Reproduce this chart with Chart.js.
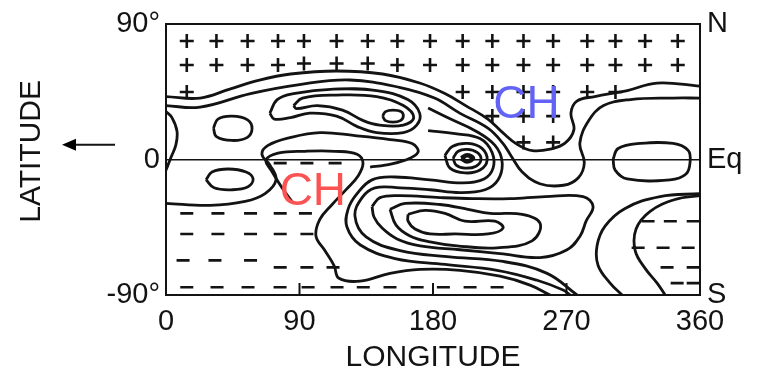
<!DOCTYPE html>
<html>
<head>
<meta charset="utf-8">
<script src="https://cdn.jsdelivr.net/npm/chart.js@4.4.0/dist/chart.umd.min.js"></script>
<style>
  html, body { margin: 0; padding: 0; background: #fff; }
  #wrap { width: 760px; height: 382px; }
</style>
</head>
<body>
<div id="wrap"><canvas id="mapChart" width="760" height="382"></canvas></div>
<script>
// contour traces as [longitude, latitude]
const northOuter = [[0,42],[23,41],[43,47],[63,53],[84,57],[115,59],[146,57],[171,51],[188,44],[202,36],[217,27],[227,18],[237,10],[247,6],[259,7],[269,11],[275,20],[273,31],[277,39],[289,42],[311,46],[331,51],[360,49]]
const northInner = [[0,36],[23,35],[57,44],[90,50],[124,53],[158,48],[181,41],[198,31],[217,21],[227,11],[233,2],[240,-8],[252,-16],[268,-17],[278,-12],[282,-2],[279,11],[285,26],[295,36],[313,40],[342,41],[360,41]]
const loopBig = [[70,31],[75,40],[86,44],[113,47],[142,46],[163,40],[171,31],[169,23],[160,18],[142,18],[129,22],[115,29],[97,31],[84,28],[73,27],[70,31]]
const loopMid = [[86,36],[92,41],[115,43],[142,42],[160,36],[167,28],[160,23],[144,23],[133,26],[119,33],[102,36],[88,34],[86,36]]
const loopSmall = [[146,29],[148,32],[153,33],[158.5,32],[160,29],[158,26],[153,25],[148,26],[146,29]]
const ovalNorth = [[32,21],[35,27],[44.5,29],[55,26.5],[58,20.6],[54.6,14.7],[44.5,12.8],[34,15.4],[32,21]]
const ovalSouth = [[27,-13.4],[31,-8.2],[42,-6.2],[54,-8.2],[58.7,-12.8],[55.3,-18],[44.5,-20],[32.4,-18.7],[27,-13.4]]
const edgeBulge = [[0,32],[4,28],[7.4,19],[6.7,10],[3.4,1.6],[1.3,-3.6],[0,-7]]
const bandLower = [[0,-29.1],[29.7,-30.4],[53.3,-27.8],[66.8,-22.6],[74.2,-13.4],[70.1,-3.6],[64.7,3.6],[68.8,9.5],[83.6,14.7],[103.8,18],[127.4,16],[151,13.4],[165.9,10.8],[169.9,4.9],[161.2,-0.3],[147.7,-3.6],[137.6,-4.9]]
const southEdge = [[85,-27.8],[78.2,-18.7],[70.8,-6.9],[67.4,-0.3],[75.5,4.3],[93.7,5.6],[114,5.6],[128.8,3.6],[132.8,-2.3],[129.5,-10.8],[121.4,-19.9],[112,-29.8],[103.8,-39.6],[101.1,-50.7],[107.2,-60.5],[113.3,-70.4],[116.6,-78.9],[130.8,-80.8],[151,-75.6],[171.3,-73],[198.2,-73.6],[225.2,-77.5],[245.4,-83.4],[258.9,-90]]
const eyeCore = [[199,1],[203,3],[207,1],[203,-1.2],[199,1]]
const eyeInner = [[193.5,1],[197,5.6],[203,6.9],[209.7,4.9],[212.4,0.3],[209,-4.3],[201.6,-5.6],[195.6,-3.6],[193.5,1]]
const eyeOuter = [[188,2.9],[193,8.8],[203.6,10.8],[213,7.5],[216.5,-0.3],[211.7,-6.9],[201.6,-8.8],[191.5,-5.6],[188,2.9]]
const hookOne = [[176.7,19.3],[194.9,17.3],[211.7,14.1],[219.8,4.9],[220.5,-5.6],[214.4,-12.8],[200.3,-15.4],[178,-13.4],[154.4,-11.5],[138.9,-13.4],[128.8,-22.6],[122.7,-33],[122,-44.8],[130.8,-56.6],[154.4,-65.8],[188.1,-69.7],[223.2,-73.6],[250.2,-80.2],[267.7,-86.7],[272.4,-90]]
const hookTwo = [[176.7,34.4],[191.5,27.2],[208.4,19.3],[221.8,9.5],[226.6,-1.6],[223.9,-13.4],[215.1,-20],[198.2,-21.9],[178,-20],[157.8,-18.7],[140.9,-18.7],[132.2,-25.2],[127.4,-37.6],[134.9,-51.4],[157.8,-60.5],[189.5,-64.5],[227.2,-67.7],[256.9,-75.6],[277.1,-90]]
const swirlOuter = [[138.9,-31.1],[144.3,-25.2],[157.8,-23.9],[184.8,-25.2],[207,-25.9],[232,-25.9],[255.6,-24.5],[281.2,-24.5],[287.9,-31.1],[283.2,-40.9],[279.2,-50.7],[270.4,-59.9],[252.2,-65.1],[225.2,-62.5],[198.2,-59.9],[171.3,-57.3],[155.8,-52.7],[145.7,-45.5],[140.3,-38.3],[138.9,-31.1]]
const swirlMid = [[151,-33],[161.2,-29.1],[184.8,-29.8],[203.6,-33],[218.5,-35.7],[240.1,-36.3],[252.2,-42.2],[246.8,-54],[223.2,-58.6],[196.2,-57.3],[178,-54.6],[164.5,-50.7],[155.1,-43.5],[151,-33]]
const swirlInner = [[163.2,-36.3],[174.6,-33.7],[188.1,-35.7],[201.6,-40.9],[221.8,-40.9],[227.2,-45.5],[217.1,-49.4],[194.9,-49.4],[178,-49.4],[167.9,-46.1],[163.2,-40.9],[163.2,-36.3]]
const eastLoop = [[301.4,0.3],[304.8,7.5],[319.6,10.8],[341.9,10.8],[352,6.2],[353.3,-1.6],[350.6,-9.5],[339.8,-13.4],[310.9,-12.8],[302.8,-6.9],[301.4,0.3]]
const eastOuter = [[360,-22.6],[333.1,-24.5],[309.5,-32.4],[296,-44.2],[290.6,-57.3],[291.3,-70.4],[299.4,-82.1],[307.5,-90]]
const eastInner = [[360,-23.9],[343.2,-26.5],[326.4,-34.4],[316.9,-46.1],[316.3,-60.5],[323,-72.3],[331.1,-82.1],[336.5,-90]]
const equator = [[0,0],[360,0]]

// + and - symbols
const plusMarks = [
  [14,79],[34,79],[55,79],[75.5,79],[93,79],[115,79],[136,79],[156,79],[178,79],[200,79],[220,79],[241,79],[261,79],[284,79],[303,79],[323,79],[345,79],
  [14,63],[34,63],[55,63],[75.5,63],[93,64],[115,64],[136,64],[156,63],[178,63],[200,63],[220,63],[241,63],[261,63],[284,63],[303,63],[323,63],[345,63],
  [14,45],[200,45],[220,45],[241,45],[261,45],[284,45],[303,45],
  [220,29],[241,29],[261,29],
  [241,11.5],[261,11.5]
]
const dashMarks = [
  [77,-2.3],[95,-2.3],[114,-2.3],
  [14,-35.7],[35,-35.7],[57,-35.7],[77,-35.7],[94,-35.7],
  [14,-49.4],[35,-49.4],[57,-49.4],[77,-49.4],[95,-49.4],
  [11.5,-67],[33,-67],[57,-67],[77,-71.6],[95,-71.6],[112.6,-71.6],
  [14,-84.8],[34.4,-84.8],[55.3,-84.8],[76.9,-84.8],[95.8,-84.8],[115.3,-84.8],[133,-84.8],[151,-84.8],[169.3,-84.8],[187,-84.8],[205,-84.8],[223.2,-84.8],
  [325,-40.9],[340,-40.9],[355.4,-40.9],
  [318.3,-58.6],[335.1,-58.6],[352,-58.6],
  [337.8,-71.6],[355.4,-71.6],
  [344.6,-82.1],[355.4,-82.1]
]

const lonTicks = [0, 90, 180, 270, 360]
const innerTickLons = [90, 180, 270]
const latLabels = { "90": "90°", "0": "0", "-90": "-90°" }
const sideLabels = { "90": "N", "0": "Eq", "-90": "S" }
const chLabels = [
  { text: "CH", lon: 243, lat: 37, color: "#6262f6" },
  { text: "CH", lon: 99, lat: -21, color: "#fb5252" },
]

const INK = "#131313"
const FONT = "'Liberation Sans', Arial, sans-serif"

const toXY = (pts) => pts.map(([x, y]) => ({ x, y }))

const contours = [northOuter, northInner, loopBig, loopMid, loopSmall, ovalNorth, ovalSouth, edgeBulge, bandLower, southEdge,
  eyeInner, eyeOuter, hookOne, hookTwo, swirlOuter, swirlMid, swirlInner, eastLoop, eastOuter, eastInner]

const datasets = contours.map((pts) => ({
  data: toXY(pts),
  showLine: true,
  borderColor: INK,
  borderWidth: 2.8,
  tension: 0.4,
  pointRadius: 0,
  fill: false,
}))

// dark centre of the eye
datasets.push({
  data: toXY(eyeCore),
  showLine: true,
  borderColor: INK,
  borderWidth: 4.5,
  tension: 0.4,
  pointRadius: 0,
})

datasets.push({
  data: toXY(equator),
  showLine: true,
  borderColor: INK,
  borderWidth: 1.6,
  tension: 0,
  pointRadius: 0,
})

datasets.push({
  data: toXY(plusMarks),
  showLine: false,
  pointStyle: "cross",
  pointRadius: 7,
  pointBorderWidth: 2.6,
  pointBorderColor: INK,
})

datasets.push({
  data: toXY(dashMarks),
  showLine: false,
  pointStyle: "line",
  pointRadius: 6.5,
  pointBorderWidth: 2.6,
  pointBorderColor: INK,
})

// extras: inner ticks on bottom edge, arrow, CH labels
const extrasPlugin = {
  id: "extras",
  afterDraw(chart) {
    const { ctx, chartArea, scales } = chart
    ctx.save()
    ctx.strokeStyle = INK
    ctx.lineWidth = 2
    innerTickLons.forEach((lon) => {
      const px = scales.x.getPixelForValue(lon)
      ctx.beginPath()
      ctx.moveTo(px, chartArea.bottom)
      ctx.lineTo(px, chartArea.bottom - 12)
      ctx.stroke()
    })

    // arrow beside the latitude title
    const ay = scales.y.getPixelForValue(10)
    const ax1 = chartArea.left - 51
    const ax0 = chartArea.left - 104
    ctx.lineWidth = 2
    ctx.beginPath()
    ctx.moveTo(ax1, ay)
    ctx.lineTo(ax0 + 10, ay)
    ctx.stroke()
    ctx.fillStyle = "#000"
    ctx.beginPath()
    ctx.moveTo(ax0, ay)
    ctx.lineTo(ax0 + 14, ay - 6)
    ctx.lineTo(ax0 + 14, ay + 6)
    ctx.closePath()
    ctx.fill()

    ctx.font = "46px " + FONT
    ctx.textAlign = "center"
    ctx.textBaseline = "middle"
    chLabels.forEach((l) => {
      ctx.fillStyle = l.color
      ctx.fillText(l.text, scales.x.getPixelForValue(l.lon), scales.y.getPixelForValue(l.lat) + 1)
    })
    ctx.restore()
  },
}

const tickFont = { family: FONT, size: 29 }
const titleFont = { family: FONT, size: 30 }
const frame = { display: true, color: INK, width: 2 }

new Chart(document.getElementById("mapChart"), {
  type: "scatter",
  data: { datasets },
  options: {
    responsive: false,
    animation: false,
    events: [],
    layout: { padding: 0 },
    plugins: {
      legend: { display: false },
      tooltip: { enabled: false },
    },
    scales: {
      x: {
        type: "linear",
        position: "bottom",
        min: 0,
        max: 360,
        afterBuildTicks: (s) => { s.ticks = lonTicks.map((v) => ({ value: v })) },
        ticks: { font: tickFont, color: INK, padding: 10, maxRotation: 0, autoSkip: false },
        grid: { display: false, drawTicks: false },
        border: frame,
        title: { display: true, text: "LONGITUDE", font: titleFont, color: INK, padding: { top: 0, bottom: 6 } },
        afterFit: (s) => { s.height = 87 },
      },
      xTop: {
        type: "linear",
        position: "top",
        min: 0,
        max: 360,
        ticks: { display: false },
        grid: { display: false, drawTicks: false },
        border: frame,
        afterFit: (s) => { s.height = 20 },
      },
      y: {
        type: "linear",
        position: "left",
        min: -90,
        max: 90,
        ticks: { stepSize: 90, font: tickFont, color: INK, padding: 6, callback: (v) => latLabels[String(v)] },
        grid: { display: false, drawTicks: false },
        border: frame,
        title: { display: true, text: "  LATITUDE", font: titleFont, color: INK, padding: { top: 14, bottom: 0 } },
        afterFit: (s) => { s.width = 166 },
      },
      yRight: {
        type: "linear",
        position: "right",
        min: -90,
        max: 90,
        ticks: { stepSize: 90, font: tickFont, color: INK, padding: 7, callback: (v) => sideLabels[String(v)] },
        grid: { display: false, drawTicks: false },
        border: frame,
        afterFit: (s) => { s.width = 60 },
      },
    },
  },
  plugins: [extrasPlugin],
})
</script>
</body>
</html>
